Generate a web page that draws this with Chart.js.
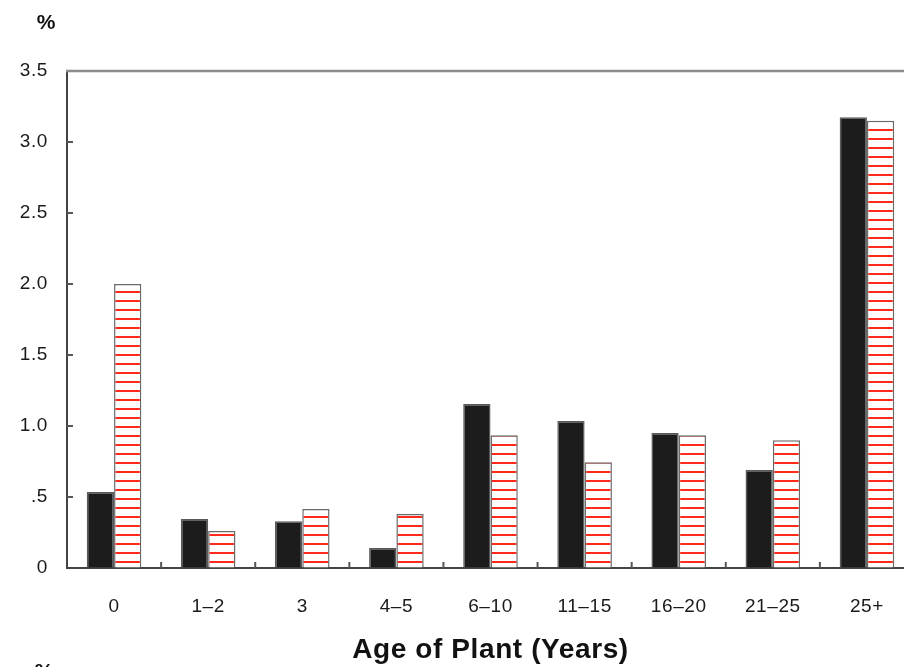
<!DOCTYPE html>
<html>
<head>
<meta charset="utf-8">
<script src="https://cdn.jsdelivr.net/npm/chart.js@4/dist/chart.umd.min.js"></script>
<style>
  body { margin: 0; background: #fff; overflow: hidden; }
  #wrap { position: relative; width: 914px; height: 667px; }
</style>
</head>
<body>
<div id="wrap"><canvas id="myChart" width="914" height="667"></canvas></div>
<script>
const ageLabels = ["0", "1–2", "3", "4–5", "6–10", "11–15", "16–20", "21–25", "25+"];
const blackValues = [0.535, 0.345, 0.33, 0.14, 1.155, 1.035, 0.95, 0.69, 3.175];
const stripedValues = [2.0, 0.26, 0.415, 0.38, 0.935, 0.745, 0.935, 0.9, 3.15];
const yTickLabels = ["0", ".5", "1.0", "1.5", "2.0", "2.5", "3.0", "3.5"];
const xTitle = "Age of Plant (Years)";
const yUnit = "%";

const FONT = "'Liberation Sans', Arial, sans-serif";

// white bar with thin red horizontal stripes
const makeStripes = () => {
  const c = document.createElement("canvas");
  c.width = 8;
  c.height = 9;
  const g = c.getContext("2d");
  g.fillStyle = "#ffffff";
  g.fillRect(0, 0, 8, 9);
  g.fillStyle = "#ff2a1a";
  g.fillRect(0, 3, 8, 2);
  return g.createPattern(c, "repeat");
};

const extras = {
  id: "extras",
  beforeDraw(chart) {
    // the original type is a bit wider than Liberation Sans
    chart.ctx.letterSpacing = "0.6px";
  },
  afterDraw(chart) {
    const ctx = chart.ctx;
    const area = chart.chartArea;
    const x = chart.scales.x;
    const y = chart.scales.y;
    ctx.save();
    // top frame line
    ctx.strokeStyle = "#8c8c8c";
    ctx.lineWidth = 2.5;
    ctx.beginPath();
    ctx.moveTo(area.left - 1, area.top);
    ctx.lineTo(area.right + 2, area.top);
    ctx.stroke();
    // inward ticks on y axis
    ctx.strokeStyle = "#555";
    ctx.lineWidth = 2;
    y.ticks.forEach(t => {
      const py = y.getPixelForValue(t.value);
      if (t.value > 0 && t.value < 3.5) {
        ctx.beginPath();
        ctx.moveTo(area.left, py);
        ctx.lineTo(area.left + 6, py);
        ctx.stroke();
      }
    });
    // category boundary ticks on x axis
    for (let i = 1; i < ageLabels.length; i++) {
      const px = (x.getPixelForValue(i - 1) + x.getPixelForValue(i)) / 2;
      ctx.beginPath();
      ctx.moveTo(px, area.bottom);
      ctx.lineTo(px, area.bottom - 6);
      ctx.stroke();
    }
    // unit label and axis title
    ctx.fillStyle = "#111";
    ctx.textAlign = "center";
    ctx.textBaseline = "middle";
    ctx.letterSpacing = "0px";
    ctx.font = "bold 21px " + FONT;
    ctx.fillText(yUnit, 46, 23);
    ctx.fillText(yUnit, 44, 672);
    ctx.letterSpacing = "0.6px";
    ctx.font = "bold 28px " + FONT;
    ctx.fillText(xTitle, (area.left + area.right) / 2, 650);
    ctx.restore();
  }
};

const ctx = document.getElementById("myChart").getContext("2d");
const myChart = new Chart(ctx, {
  type: "bar",
  data: {
    labels: ageLabels,
    datasets: [
      {
        label: "Series 1",
        data: blackValues,
        backgroundColor: "#1c1c1c",
        borderColor: "#5a5a5a",
        borderWidth: 1.5
      },
      {
        label: "Series 2",
        data: stripedValues,
        backgroundColor: makeStripes(),
        borderColor: "#6a6a6a",
        borderWidth: 1.5
      }
    ]
  },
  options: {
    responsive: false,
    animation: false,
    layout: { padding: { top: 71, left: 0, right: 0, bottom: 0 } },
    datasets: { bar: { barPercentage: 1, categoryPercentage: 0.58 } },
    plugins: { legend: { display: false }, tooltip: { enabled: false } },
    scales: {
      x: {
        grid: { drawOnChartArea: false, drawTicks: false },
        border: { display: true, color: "#444", width: 2 },
        ticks: { color: "#1a1a1a", font: { family: FONT, size: 19 }, padding: 27, maxRotation: 0 },
        afterFit: s => { s.height = 99; }
      },
      y: {
        min: 0,
        max: 3.5,
        grid: { drawOnChartArea: false, drawTicks: false },
        border: { display: true, color: "#444", width: 2 },
        ticks: {
          stepSize: 0.5,
          color: "#1a1a1a",
          font: { family: FONT, size: 19 },
          padding: 19,
          callback: (v, i) => yTickLabels[i]
        },
        afterFit: s => { s.width = 67; }
      }
    }
  },
  plugins: [extras]
});
</script>
</body>
</html>
